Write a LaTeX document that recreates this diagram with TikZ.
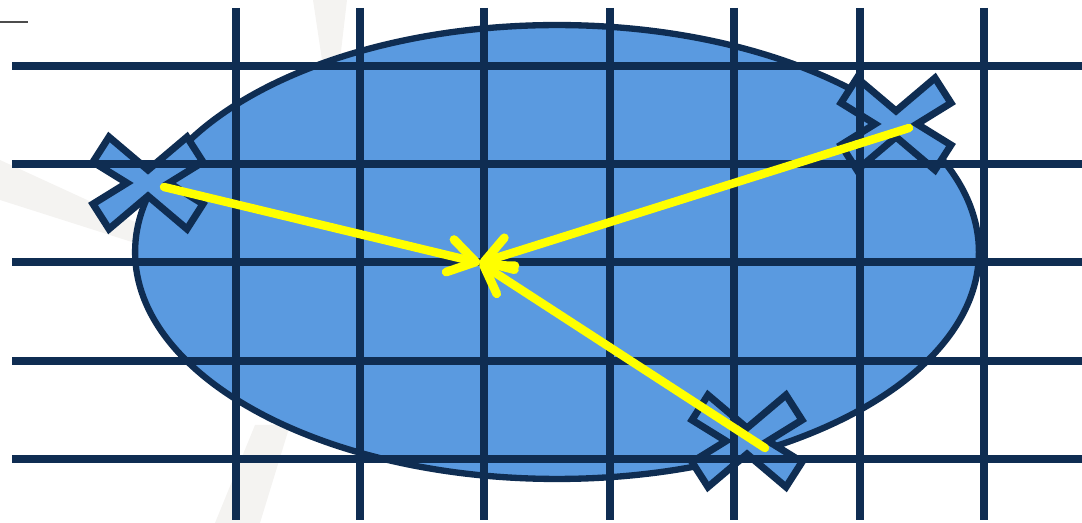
\documentclass[tikz,border=0pt]{standalone}
\usepackage{tikz}
\usetikzlibrary{arrows.meta,shapes.geometric}
\usepackage{xcolor}
\definecolor{navy}{HTML}{0F2D52}
\definecolor{blobblue}{HTML}{5A9AE0}
\definecolor{pullyellow}{HTML}{FFFF00}
\definecolor{ghost}{HTML}{F4F3F1}

\tikzset{
  xmark/.pic={
    \draw[markline] (0,-13) -- (39,-46) -- (55,-21) -- (21,0) -- (55,21) -- (39,46)
      -- (0,13) -- (-39,46) -- (-55,21) -- (-21,0) -- (-55,-21) -- (-39,-46) -- cycle;
  }
}

\begin{document}
\begin{tikzpicture}[
      x=0.02cm, y=-0.02cm,
      blob/.style={ellipse,draw=navy,fill=blobblue,line width=3.6pt,inner sep=0pt,minimum width=16.88cm,minimum height=9.08cm},
      markline/.style={draw=navy,fill=blobblue,line width=4pt,line join=miter},
      gridline/.style={navy,line width=4.6pt},
      pull/.style={-{Straight Barb[length=15pt,width=19pt,line width'=5pt,line cap=round,line join=round]},draw=pullyellow,line width=4.8pt,line cap=round},
      ghostband/.style={fill=ghost,draw=none}
    ]
      \useasboundingbox (0,0) rectangle (1082,523);

      % faint background swoosh
      \fill[ghostband] (0,160) -- (135,222) -- (135,243) -- (0,200) -- cycle;
      \fill[ghostband] (313,0) -- (347,0) -- (340,60) -- (322,60) -- cycle;
      \fill[ghostband] (215,523) -- (260,523) -- (290,425) -- (255,425) -- cycle;
      \draw[black!70,line width=0.6pt] (0,22) -- (28,22);

      \node[blob] (blob) at (557,252) {};

      \coordinate (xa) at (148,183);
      \coordinate (xb) at (896,124);
      \coordinate (xc) at (747,441);
      \pic at (xa) {xmark};
      \pic at (xb) {xmark};
      \pic at (xc) {xmark};

      \foreach \gy in {66,164,262,361,459}
        \draw[gridline] (12,\gy) -- (1082,\gy);
      \foreach \gx in {236,360,484,610,734,860,984}
        \draw[gridline] (\gx,8) -- (\gx,520);

      \coordinate (hit) at (480,263);
      \coordinate (fa) at (164,187);
      \coordinate (fb) at (909,128);
      \coordinate (fc) at (765,448);
      \draw[pull] (fa) -- (hit);
      \draw[pull] (fb) -- (hit);
      \draw[pull] (fc) -- (hit);
    \end{tikzpicture}
\end{document}
